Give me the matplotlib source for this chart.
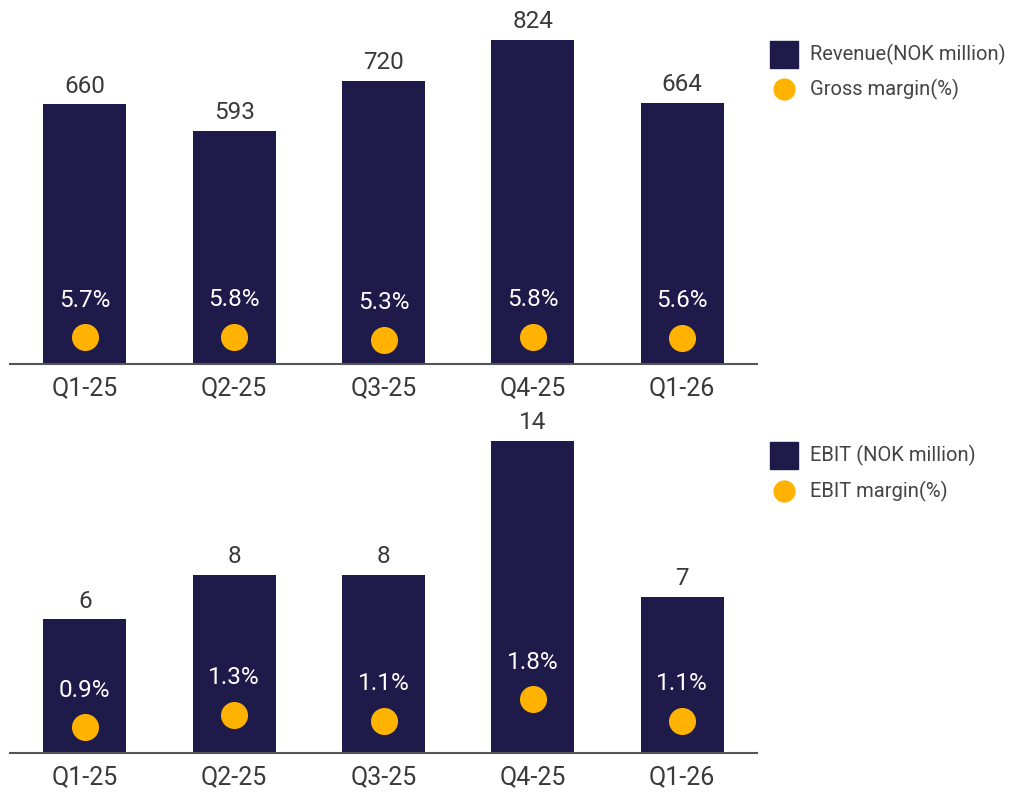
import matplotlib
matplotlib.use("Agg")
import matplotlib.pyplot as plt
from matplotlib.lines import Line2D
from matplotlib.patches import Rectangle

plt.rcParams['font.family'] = ['Roboto', 'DejaVu Sans']

quarters = ["Q1-25", "Q2-25", "Q3-25", "Q4-25", "Q1-26"]
revenue = [660, 593, 720, 824, 664]
gross_margin = [5.7, 5.8, 5.3, 5.8, 5.6]
ebit = [6, 8, 8, 14, 7]
ebit_margin = [0.9, 1.3, 1.1, 1.8, 1.1]

BAR = "#1E1A4A"
DOT = "#FFB200"
TXT = "#3a3a3a"

W, H = 1017, 793
fig = plt.figure(figsize=(W / 100, H / 100), dpi=100)


def px_axes(left, right, top, bottom):
    return [left / W, 1 - bottom / H, (right - left) / W, (bottom - top) / H]


def panel(rect, values, margins, ylim, ylim2, fmt_val):
    ax = fig.add_axes(rect)
    x = list(range(len(quarters)))
    ax.bar(x, values, width=0.556, color=BAR, zorder=2)
    ax.set_xlim(-0.5, len(quarters) - 0.5)
    ax.set_ylim(*ylim)
    for s in ["top", "right", "left"]:
        ax.spines[s].set_visible(False)
    ax.spines["bottom"].set_color("#555555")
    ax.spines["bottom"].set_linewidth(1.5)
    ax.set_yticks([])
    ax.set_xticks(x)
    ax.set_xticklabels(quarters, fontsize=18, color=TXT)
    ax.tick_params(axis="x", length=0, pad=9)
    for xi, v in zip(x, values):
        ax.annotate(fmt_val(v), (xi, v), xytext=(0, 13), textcoords="offset points",
                    ha="center", va="center", fontsize=17.5, color=TXT)
    ax2 = ax.twinx()
    ax2.set_ylim(*ylim2)
    ax2.set_axis_off()
    ax2.scatter(x, margins, s=380, color=DOT, zorder=3, linewidths=0)
    for xi, m in zip(x, margins):
        ax2.annotate(f"{m:.1f}%", (xi, m), xytext=(0, 26.5), textcoords="offset points",
                     ha="center", va="center", fontsize=17.5, color="white")
    return ax


# top panel: baseline y=364, top y=20
top_h = 344
panel(px_axes(10, 757, 20, 364), revenue, gross_margin,
      (0, top_h * 824 / 324), (1.22, 1.22 + top_h / 6.0), lambda v: f"{v}")

# bottom panel: baseline y=753, top y=420
bot_h = 333
panel(px_axes(10, 757, 420, 753), ebit, ebit_margin,
      (0, bot_h * 14 / 312), (0.064, 0.064 + bot_h / 31.1), lambda v: f"{v}")


def legend_entry(y_sq, y_dot, label1, label2):
    fig.add_artist(Rectangle((770 / W, 1 - (y_sq + 13.5) / H), 28 / W, 27 / H,
                             transform=fig.transFigure, color=BAR))
    fig.text(810 / W, 1 - y_sq / H, label1, fontsize=14.5, color="#444444", va="center", ha="left")
    fig.add_artist(Line2D([784 / W], [1 - y_dot / H], marker="o", markersize=16,
                          color=DOT, markeredgewidth=0, transform=fig.transFigure))
    fig.text(810 / W, 1 - y_dot / H, label2, fontsize=14.5, color="#444444", va="center", ha="left")


legend_entry(54, 89, "Revenue(NOK million)", "Gross margin(%)")
legend_entry(455, 491, "EBIT (NOK million)", "EBIT margin(%)")

fig.savefig("out.png", dpi=100)
